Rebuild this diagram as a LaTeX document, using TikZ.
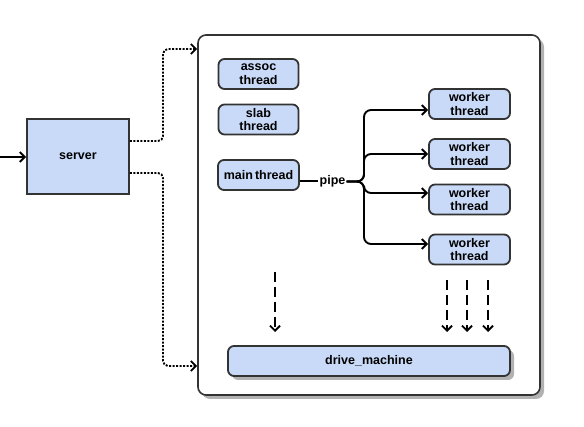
\documentclass[tikz,border=0pt]{standalone}
\usepackage{fontspec}
\setmainfont{Liberation Sans}
\usetikzlibrary{arrows.meta,shadows}
\definecolor{boxblue}{HTML}{C9DAF8}
\definecolor{edge}{HTML}{333333}
\tikzset{
  lbl/.style={font=\bfseries\fontsize{12.5}{13.5}\selectfont, align=center},
  rbox/.style={lbl, draw=edge, line width=1.8pt, fill=boxblue, rounded corners=6pt, inner sep=0pt, minimum width=80pt, minimum height=30pt},
  arr/.style={line width=1.9pt, -{Straight Barb[length=5pt,width=10pt,line width=1.9pt]}},
  dotarr/.style={arr, dash pattern=on 2pt off 1.5pt, rounded corners=5pt},
  dasharr/.style={arr, dash pattern=on 10pt off 5pt},
  shad/.style={drop shadow={shadow xshift=4pt, shadow yshift=-4pt, fill=black!30, opacity=1}}
}
\begin{document}
\begin{tikzpicture}[x=1pt,y=-1pt]
\useasboundingbox (0,0) rectangle (584,427);
% container
\node[draw=edge, line width=1.6pt, fill=white, rounded corners=8pt, minimum width=342pt, minimum height=360pt, shad] (cont) at (369,215) {};
% server
\node[lbl, draw=edge, line width=1.8pt, fill=boxblue, minimum width=102pt, minimum height=75pt] (server) at (78,156.5) {server};
% thread boxes
\node[rbox] (assoc) at (258.5,74) {assoc\\thread};
\node[rbox] (slab) at (258.5,119.5) {slab\\thread};
\node[rbox, minimum width=81pt] (main) at (258.5,175) {main\,thread};
\node[rbox, minimum width=81pt] (w1) at (469.5,104) {worker\\thread};
\node[rbox, minimum width=81pt] (w2) at (469.5,154) {worker\\thread};
\node[rbox, minimum width=81pt] (w3) at (469.5,199.5) {worker\\thread};
\node[rbox, minimum width=81pt] (w4) at (469.5,249.5) {worker\\thread};
\node[rbox, minimum width=282pt, shad] (drive) at (369,361) {drive\_machine};
% input arrow
\coordinate (in) at (0,157);
\draw[arr] (in) -- (in -| server.west);
% dotted connectors
\draw[dotarr] ([yshift=15.5pt]server.east) -- (163,141) -- (163,49) -- (cont.west |- 0,49);
\draw[dotarr] ([yshift=-16.5pt]server.east) -- (163,173) -- (163,366) -- (cont.west |- 0,366);
% pipe
\node[lbl, inner sep=1pt] (pipe) at (332.5,181.5) {pipe};
\draw[line width=2pt] (pipe.west -| main.east) -- (pipe.west);
\coordinate (fork) at (364,181.5);
\draw[arr, rounded corners=7pt] (pipe.east) -- (fork) |- (w1.west |- 0,110);
\draw[arr, rounded corners=7pt] (pipe.east) -- (fork) |- (w2.west);
\draw[arr, rounded corners=7pt] (pipe.east) -- (fork) |- (w3.west |- 0,193);
\draw[arr, rounded corners=7pt] (pipe.east) -- (fork) |- (w4.west |- 0,244);
% dashed arrows
\coordinate (d0) at (275,272);
\coordinate (d1) at (447,280);
\coordinate (d2) at (467,280);
\coordinate (d3) at (488,280);
\draw[dasharr] (d0) -- (d0 |- 0,332);
\draw[dasharr] (d1) -- (d1 |- 0,332);
\draw[dasharr] (d2) -- (d2 |- 0,332);
\draw[dasharr] (d3) -- (d3 |- 0,332);
\end{tikzpicture}
\end{document}
